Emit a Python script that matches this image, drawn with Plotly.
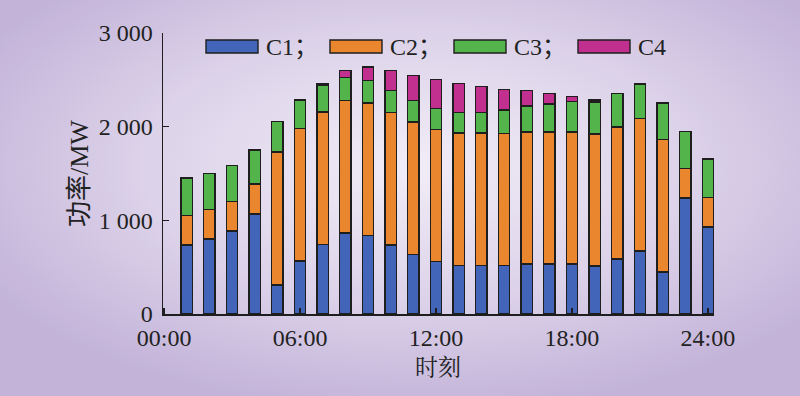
import base64
import plotly.graph_objects as go

# ---- data ----
hours = list(range(1, 25))
c1 = [738, 802, 888, 1066, 310, 567, 745, 863, 841, 738, 638, 560,
      517, 517, 517, 535, 535, 535, 513, 588, 674, 449, 1237, 930]
c2 = [313, 314, 313, 321, 1419, 1412, 1412, 1419, 1412, 1415, 1412, 1408,
      1415, 1415, 1412, 1408, 1408, 1408, 1409, 1408, 1411, 1412, 314, 314]
c3 = [400, 385, 382, 364, 324, 306, 281, 246, 239, 235, 228, 224,
      221, 221, 249, 278, 300, 324, 342, 357, 371, 392, 399, 410]
c4 = [0, 0, 0, 0, 0, 0, 18, 74, 146, 214, 271, 311,
      307, 278, 221, 164, 110, 57, 21, 0, 0, 0, 0, 0]
series_names = ["C1；", "C2；", "C3；", "C4"]
x_tickvals = [0, 6, 12, 18, 24]
x_ticktext = ["00:00", "06:00", "12:00", "18:00", "24:00"]
y_tickvals = [0, 1000, 2000, 3000]
y_ticktext = ["0", "1 000", "2 000", "3 000"]

colors = ["#4264b9", "#ea862d", "#52b44a", "#c1308f"]
edge = "#1e1e1e"

W, H = 800, 396
L, R, T, B = 163, 86, 33, 82
PW, PH = W - L - R, H - T - B


def px(x):
    return (x - L) / PW


def py(y):
    return (H - B - y) / PH


FONT = "Liberation Serif, Times New Roman, Noto Sans CJK SC, serif"
CJK = "Noto Serif CJK SC, Noto Sans CJK SC, serif"

fig = go.Figure()
for name, vals, col in zip(series_names, [c1, c2, c3, c4], colors):
    fig.add_trace(go.Bar(
        x=hours, y=vals, name=name, width=0.5,
        marker=dict(color=col, line=dict(color=edge, width=1.4)),
        showlegend=False,
    ))

# background radial gradient
svg = f'''<svg xmlns="http://www.w3.org/2000/svg" width="{W}" height="{H}" viewBox="0 0 {W} {H}" preserveAspectRatio="none">
<defs><radialGradient id="g" cx="0.52" cy="0.42" r="0.62">
<stop offset="0" stop-color="#f1edf7"/>
<stop offset="0.55" stop-color="#dcd2e9"/>
<stop offset="1" stop-color="#c3b3d9"/>
</radialGradient></defs>
<rect x="0" y="0" width="{W}" height="{H}" fill="url(#g)"/></svg>'''
src = "data:image/svg+xml;base64," + base64.b64encode(svg.encode()).decode()
fig.add_layout_image(dict(
    source=src, xref="paper", yref="paper",
    x=px(0), y=py(0), sizex=W / PW, sizey=H / PH,
    xanchor="left", yanchor="top", sizing="stretch", layer="below",
))

# custom legend
legend_x = [206, 330, 454, 578]
shapes = []
annotations = []
for i, (name, col) in enumerate(zip(series_names, colors)):
    x0 = legend_x[i]
    shapes.append(dict(type="rect", xref="paper", yref="paper",
                       x0=px(x0), x1=px(x0 + 52), y0=py(53), y1=py(40),
                       fillcolor=col, line=dict(color=edge, width=1.4)))
    annotations.append(dict(text=name, xref="paper", yref="paper",
                            x=px(x0 + 58), y=py(46.5), xanchor="left",
                            yanchor="middle", showarrow=False,
                            font=dict(family=FONT, size=24, color="#222")))

annotations.append(dict(text="功率/MW", xref="paper", yref="paper",
                        x=px(79), y=py(174), textangle=-90, showarrow=False,
                        xanchor="center", yanchor="middle",
                        font=dict(family=FONT, size=26, color="#222")))
annotations.append(dict(text="时刻", xref="paper", yref="paper",
                        x=px(438), y=py(365), showarrow=False,
                        xanchor="center", yanchor="middle",
                        font=dict(family=CJK, size=23, color="#222")))

fig.update_layout(
    width=W, height=H, autosize=False,
    margin=dict(l=L, r=R, t=T, b=B, pad=0),
    barmode="stack",
    paper_bgcolor="#c9bbdd",
    plot_bgcolor="rgba(0,0,0,0)",
    shapes=shapes, annotations=annotations,
    font=dict(family=FONT, size=24, color="#222"),
    xaxis=dict(range=[-0.05, 24.27], tickvals=x_tickvals, ticktext=x_ticktext,
               showline=True, linecolor=edge, linewidth=1.5,
               ticks="inside", ticklen=6, tickwidth=1.5, tickcolor=edge,
               showgrid=False, zeroline=False, ticklabelstandoff=2,
               tickfont=dict(family=FONT, size=24, color="#222")),
    yaxis=dict(range=[0, 3000], tickvals=y_tickvals, ticktext=y_ticktext,
               showline=True, linecolor=edge, linewidth=1.5,
               ticks="inside", ticklen=6, tickwidth=1.5, tickcolor=edge,
               showgrid=False, zeroline=False, ticklabelstandoff=4,
               tickfont=dict(family=FONT, size=24, color="#222")),
)

fig.write_html("out.html",
               config={"displayModeBar": False, "staticPlot": True},
               post_script="document.body.style.margin='0';"
                           "document.body.style.overflow='hidden';")
